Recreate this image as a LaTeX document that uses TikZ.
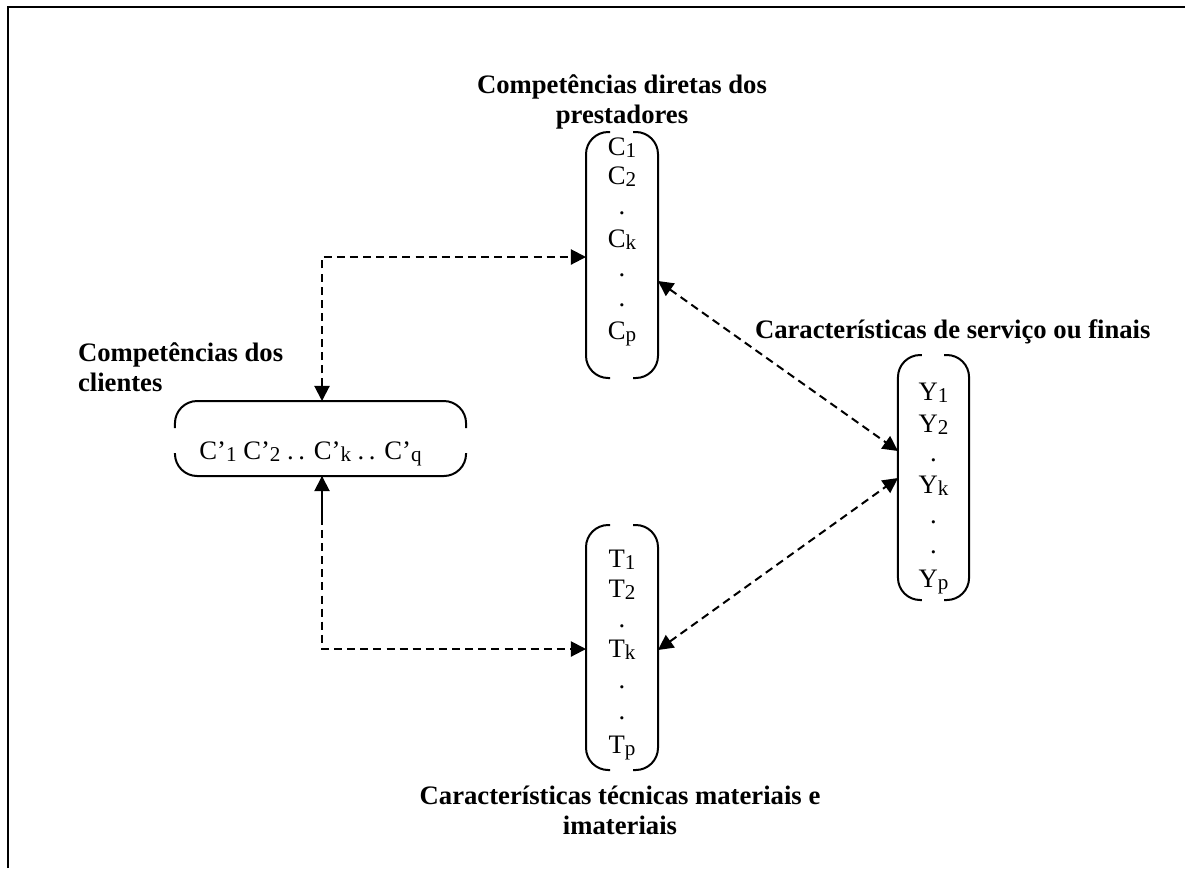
\documentclass[tikz,border=0pt]{standalone}
\usepackage{fontspec}
\setmainfont{Liberation Serif}
\usetikzlibrary{arrows.meta,calc}

% small lowered index after a letter
\newcommand\sbs[1]{\raisebox{-1.3pt}{\fontsize{9.5}{9.5}\selectfont #1}}

\begin{document}
\begin{tikzpicture}[x=0.45pt,y=-0.45pt,
  every node/.style={inner sep=0pt,outer sep=0pt},
  frame/.style={line width=0.9pt},
  holder/.style={draw=none,rectangle},
  bracket/.style={line width=0.9pt,rounded corners=10pt},
  entry/.style={anchor=base,font=\fontsize{12}{14}\selectfont},
  title/.style={align=center,font=\fontsize{12}{13.5}\selectfont\bfseries},
  link/.style={line width=0.9pt,dash pattern=on 3.6pt off 2.3pt,
    {Triangle[length=6.8pt,width=6.8pt]}-{Triangle[length=6.8pt,width=6.8pt]}}]

\useasboundingbox (0,0) rectangle (1185,868);
\draw[frame] (8,868) -- (8,7) -- (1185,7);

% column holders
\node[holder,minimum width=32.4pt,minimum height=110.7pt] (C) at (622,255) {};
\node[holder,minimum width=32.4pt,minimum height=110.25pt] (T) at (622,647.5) {};
\node[holder,minimum width=32pt,minimum height=110.25pt] (Y) at (933.5,477.5) {};
\node[holder,minimum width=131pt,minimum height=33.75pt] (L) at (320.5,438.5) {};

% vertical brackets: open at top and bottom
\foreach \b in {C,T,Y}{
  \draw[bracket] ($(\b.north west)+(24,0)$) -- (\b.north west) -- (\b.south west) -- ($(\b.south west)+(24,0)$);
  \draw[bracket] ($(\b.north east)+(-25,0)$) -- (\b.north east) -- (\b.south east) -- ($(\b.south east)+(-25,0)$);
}
% horizontal bracket: open at left and right
\draw[bracket] ($(L.north west)+(0,27)$) -- (L.north west) -- (L.north east) -- ($(L.north east)+(0,27)$);
\draw[bracket] ($(L.south west)+(0,-23)$) -- (L.south west) -- (L.south east) -- ($(L.south east)+(0,-23)$);

% column entries
\foreach \txt/\yy [count=\i] in {C\sbs{1}/155,C\sbs{2}/184,./214,C\sbs{k}/247,./276,./306,C\sbs{p}/339}
  \node[entry] (c\i) at (622,\yy) {\txt};
\foreach \txt/\yy [count=\i] in {T\sbs{1}/567,T\sbs{2}/597,./627,T\sbs{k}/657,./688,./719,T\sbs{p}/753}
  \node[entry] (t\i) at (622,\yy) {\txt};
\foreach \txt/\yy [count=\i] in {Y\sbs{1}/400,Y\sbs{2}/432,./461,Y\sbs{k}/493,./523,./553,Y\sbs{p}/587}
  \node[entry] (y\i) at (933.5,\yy) {\txt};
\node[entry] (l1) at (310.5,459) {C’\sbs{1} C’\sbs{2} .\,. C’\sbs{k} .\,. C’\sbs{q}};

% titles (base anchor sits on the last line)
\node[title,anchor=base] (tc) at (622,123) {Competências diretas dos\\prestadores};
\node[title,anchor=base west,align=left] (tl) at (78,391) {Competências dos\\clientes};
\node[title,anchor=base west] (ty) at (755,338) {Características de serviço ou finais};
\node[title,anchor=base] (tt) at (620,834) {Características técnicas materiais e\\imateriais};

% connectors
\coordinate (j1) at (322,257);
\coordinate (j2) at (322,649);
\draw[link] (j1 |- L.north) -- (j1) -- (j1 -| C.west);
\draw[link] (j2 |- L.south) -- (j2) -- (j2 -| T.west);
\draw[line width=0.9pt] (j2 |- L.south) -- ($(j2 |- L.south)+(0,45)$);
\draw[link] ($(C.north east)+(0,149)$) -- ($(Y.north west)+(0,96)$);
\draw[link] ($(T.north east)+(0,125)$) -- ($(Y.north west)+(0,123)$);

\end{tikzpicture}
\end{document}
